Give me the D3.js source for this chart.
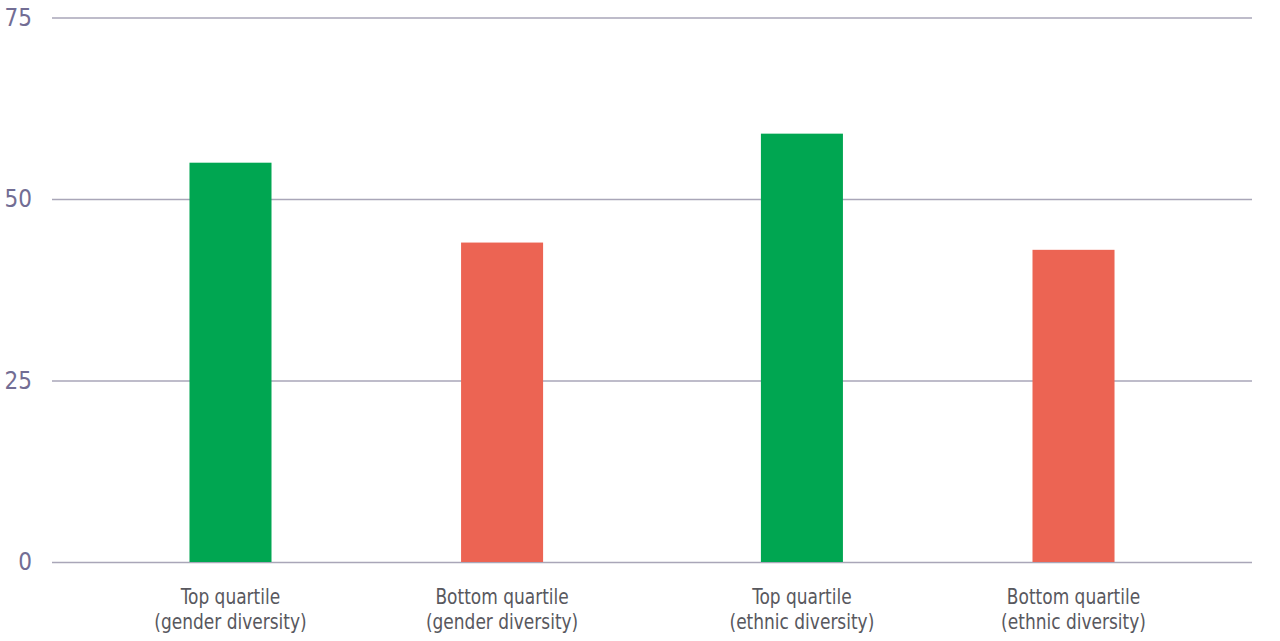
<!DOCTYPE html>
<html>
<head>
<meta charset="utf-8">
<script src="https://cdn.jsdelivr.net/npm/d3@7"></script>
<style>
  body { margin: 0; background: #fff; }
  svg text { font-family: "Liberation Sans Narrow", "DejaVu Sans Condensed", "Roboto", sans-serif; }
</style>
</head>
<body>
<script>
const groups = ['gender', 'ethnic'];
const quartiles = ['Top quartile', 'Bottom quartile'];
const values = [
  { group: 'gender', quartile: 'Top quartile', value: 55 },
  { group: 'gender', quartile: 'Bottom quartile', value: 44 },
  { group: 'ethnic', quartile: 'Top quartile', value: 59 },
  { group: 'ethnic', quartile: 'Bottom quartile', value: 43 }
];
const yTicks = [0, 25, 50, 75];
const colors = { 'Top quartile': '#00a651', 'Bottom quartile': '#ec6453' };

const svgWidth = 1280;
const svgHeight = 641;
const plotLeft = 52;
const plotRight = 1252;
const plotTop = 17.5;
const plotBottom = 562;

const svg = d3.select('body')
              .append('svg')
              .attr('width', svgWidth)
              .attr('height', svgHeight);

// Scales
const x0 = d3.scaleBand()
             .domain(groups)
             .range([plotLeft, plotRight])
             .paddingInner(0)
             .paddingOuter(0.05);

const x1 = d3.scaleBand()
             .domain(quartiles)
             .range([0, x0.bandwidth()])
             .paddingInner(0.698)
             .paddingOuter(0.401);

const yScale = d3.scaleLinear()
                 .domain([0, 75])
                 .range([plotBottom, plotTop]);

// Gridlines + tick labels
const yAxis = d3.axisLeft(yScale)
                .tickValues(yTicks)
                .tickSize(-(plotRight - plotLeft))
                .tickPadding(20);

const yG = svg.append('g')
              .attr('transform', 'translate(' + plotLeft + ',0)')
              .call(yAxis);
yG.select('.domain').remove();
yG.selectAll('.tick line')
  .attr('stroke', '#a9a6b8')
  .attr('stroke-width', 1.5);
yG.selectAll('.tick text')
  .attr('fill', '#726d94')
  .attr('font-size', 24)
  .attr('x', -20)
  .attr('text-anchor', 'end');

// Bars
svg.selectAll('rect.bar')
   .data(values)
   .enter()
   .append('rect')
   .attr('class', 'bar')
   .attr('x', (d) => x0(d.group) + x1(d.quartile))
   .attr('y', (d) => yScale(d.value))
   .attr('width', x1.bandwidth())
   .attr('height', (d) => yScale(0) - yScale(d.value))
   .attr('fill', (d) => colors[d.quartile]);

// Category labels (squeezed a bit to look like a condensed face)
const labelX = (d) => x0(d.group) + x1(d.quartile) + x1.bandwidth() / 2;
const labels = svg.selectAll('g.cat')
   .data(values)
   .enter()
   .append('g')
   .attr('class', 'cat')
   .attr('transform', (d) => 'translate(' + labelX(d) + ',604) scale(0.86,1)')
   .append('text')
   .attr('text-anchor', 'middle')
   .attr('fill', '#58585e')
   .attr('font-size', 22);

labels.append('tspan')
      .attr('x', 0)
      .text((d) => d.quartile);
labels.append('tspan')
      .attr('x', 0)
      .attr('dy', 25)
      .text((d) => '(' + d.group + ' diversity)');
</script>
</body>
</html>
